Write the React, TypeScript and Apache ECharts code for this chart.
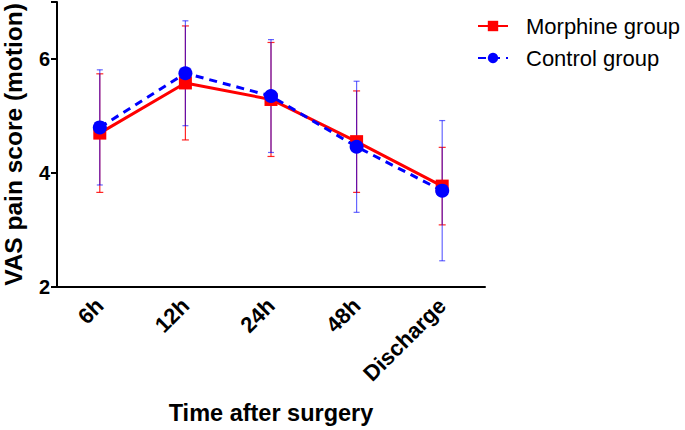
import React, { useEffect, useRef } from "react";
import * as echarts from "echarts";

const categories = ["6h", "12h", "24h", "48h", "Discharge"];
const morphineMean = [4.7, 5.58, 5.29, 4.55, 3.77];
const morphineSd = [1.04, 1.0, 1.0, 0.89, 0.68];
const controlMean = [4.8, 5.75, 5.35, 4.46, 3.69];
const controlSd = [1.01, 0.92, 0.99, 1.15, 1.23];
const yTicks = [2, 4, 6];

const FONT = "Liberation Sans, Arial, sans-serif";

function errorSeries(name: string, mean: number[], sd: number[], color: string, opacity: number, cap: number) {
  return {
    type: "custom",
    name: name + " SD",
    z: 1,
    silent: true,
    data: mean.map((m, i) => [i, m - sd[i], m + sd[i]]),
    encode: { x: 0, y: [1, 2] },
    renderItem: (params: any, api: any) => {
      const lo = api.coord([api.value(0), api.value(1)]);
      const hi = api.coord([api.value(0), api.value(2)]);
      const style = { stroke: color, lineWidth: 1.2, opacity };
      return {
        type: "group",
        children: [
          { type: "line", shape: { x1: hi[0], y1: hi[1], x2: lo[0], y2: lo[1] }, style },
          { type: "line", shape: { x1: hi[0] - cap, y1: hi[1], x2: hi[0] + cap, y2: hi[1] }, style },
          { type: "line", shape: { x1: lo[0] - cap, y1: lo[1], x2: lo[0] + cap, y2: lo[1] }, style },
        ],
      };
    },
  };
}

export default function App() {
  const ref = useRef<HTMLDivElement>(null);
  useEffect(() => {
    const chart = echarts.init(ref.current!, null, { renderer: "svg" });
    chart.setOption({
      animation: false,
      textStyle: { fontFamily: FONT },
      grid: { left: 57, right: 200, top: 2, bottom: 143, containLabel: false, outerBoundsMode: "none" },
      legend: {
        orient: "vertical",
        left: 472,
        top: 10,
        itemWidth: 30,
        itemHeight: 13,
        itemGap: 10,
        textStyle: { fontSize: 22, lineHeight: 22, color: "#000", fontFamily: FONT, padding: [0, 0, 0, 13] },
        data: ["Morphine group", "Control group"],
      },
      xAxis: {
        type: "category",
        data: categories,
        boundaryGap: true,
        name: "Time after surgery",
        nameLocation: "middle",
        nameGap: 114,
        nameTextStyle: { fontSize: 23.5, fontWeight: "bold", color: "#000", fontFamily: FONT },
        axisLine: { lineStyle: { color: "#000", width: 2 } },
        axisTick: { alignWithLabel: true, length: 6, lineStyle: { color: "#000", width: 2 } },
        axisLabel: { rotate: 45, fontSize: 22, fontWeight: "bold", color: "#000", margin: 15, fontFamily: FONT },
        splitLine: { show: false },
      },
      yAxis: {
        type: "value",
        min: 2,
        max: 7,
        interval: 2,
        name: "VAS pain score (motion)",
        nameLocation: "middle",
        nameGap: 31,
        nameTextStyle: { fontSize: 24.5, fontWeight: "bold", color: "#000", fontFamily: FONT },
        axisLine: { show: true, lineStyle: { color: "#000", width: 2 } },
        axisTick: { show: true, length: 6, lineStyle: { color: "#000", width: 2 } },
        axisLabel: {
          fontSize: 20,
          fontWeight: "bold",
          color: "#000",
          margin: 7,
          fontFamily: FONT,
          formatter: (v: number) => (yTicks.includes(v) ? String(v) : ""),
        },
        splitLine: { show: false },
      },
      series: [
        errorSeries("Morphine group", morphineMean, morphineSd, "#ff0000", 0.85, 3.5),
        errorSeries("Control group", controlMean, controlSd, "#0000ff", 0.6, 3),
        {
          type: "line",
          name: "Morphine group",
          z: 3,
          data: morphineMean,
          symbol: "rect",
          symbolSize: 13,
          itemStyle: { color: "#ff0000" },
          lineStyle: { color: "#ff0000", width: 3 },
        },
        {
          type: "line",
          name: "Control group",
          z: 4,
          data: controlMean,
          symbol: "circle",
          symbolSize: 14,
          itemStyle: { color: "#0000ff" },
          lineStyle: { color: "#0000ff", width: 3, type: [8, 6] },
        },
      ],
    });
    return () => chart.dispose();
  }, []);
  return <div ref={ref} style={{ position: "absolute", left: 0, top: 0, width: 685, height: 430 }} />;
}
